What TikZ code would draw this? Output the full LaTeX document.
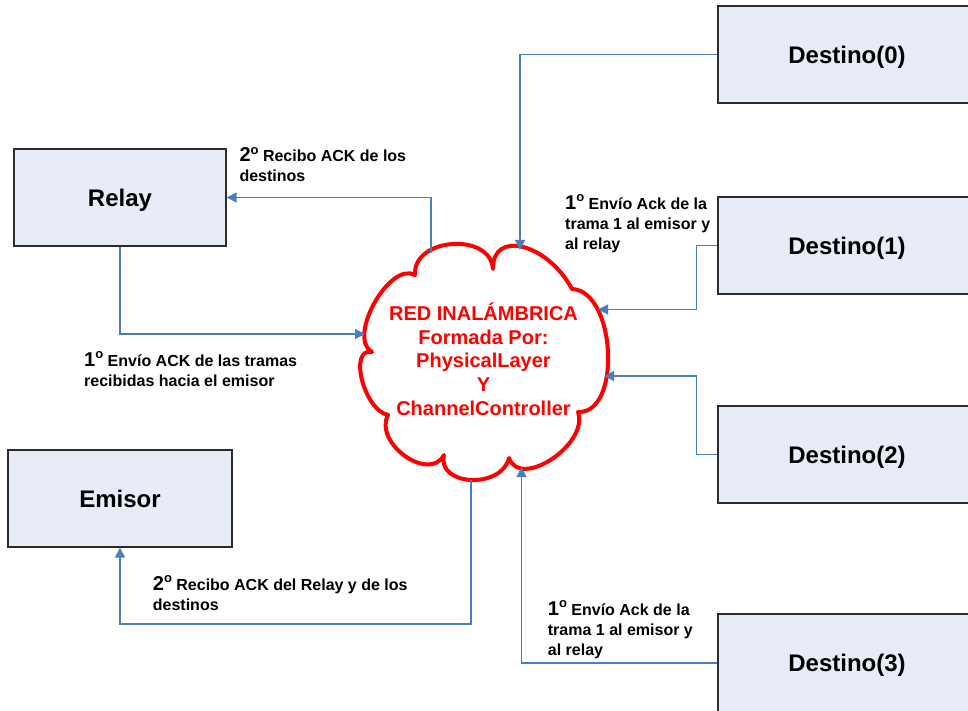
\documentclass[tikz,border=0pt]{standalone}
\usepackage{fontspec}
\setmainfont{Liberation Sans}
\usetikzlibrary{arrows.meta}
\definecolor{boxfill}{HTML}{E7ECF6}
\definecolor{boxline}{HTML}{2B2B2B}
\definecolor{linkblue}{HTML}{4A7EBB}
% ordinal number: large digit with a raised small "o"
\newcommand\ordn[1]{{\fontsize{20}{20}\selectfont #1}\raisebox{7.5pt}{\fontsize{13}{13}\selectfont o}}

\begin{document}
\begin{tikzpicture}[x=1pt,y=-1pt,
  box/.style={draw=boxline, line width=1.3pt, fill=boxfill, inner sep=0pt,
    minimum height=97pt, text height=17.2pt, text depth=0pt,
    font=\fontsize{24}{24}\selectfont\bfseries},
  link/.style={draw=linkblue, line width=1.1pt, -{Triangle[length=10pt,width=10pt]}},
  note/.style={anchor=base west, inner sep=0pt, font=\fontsize{16}{20}\selectfont\bfseries},
  ]
\useasboundingbox (0,0) rectangle (968,711);
\clip (0,0) rectangle (968,711);

% stations
\node[box, minimum width=212pt] (relay)  at (120,197.5) {Relay};
\node[box, minimum width=224pt] (emisor) at (120,498.5) {Emisor};
\node[box, minimum width=258pt] (d0) at (847,54.5)  {Destino(0)};
\node[box, minimum width=258pt] (d1) at (847,245.5) {Destino(1)};
\node[box, minimum width=258pt] (d2) at (847,454.5) {Destino(2)};
\node[box, minimum width=258pt, minimum height=98pt] (d3) at (847,663) {Destino(3)};

% wireless network cloud
\draw[red, line width=4pt, line join=round]
  (372,352) .. controls (346.6,337.8) and (389.6,260.8) .. (415,275)
  .. controls (412.3,237.7) and (490.3,231.7) .. (493,269)
  .. controls (492.2,229.3) and (547.5,243.3) .. (572,289)
  .. controls (616,291) and (622,414) .. (578,412)
  .. controls (589.3,444) and (520.3,490) .. (509,458)
  .. controls (501.7,489.3) and (436.7,486.3) .. (444,455)
  .. controls (429.3,483) and (373.3,443) .. (388,415)
  .. controls (364,410.3) and (348,347.3) .. (372,352) -- cycle;
\node[anchor=base, text=red, inner sep=0pt, font=\fontsize{20}{23.6}\selectfont\bfseries]
  (cloudtext) at (483.5,320.7)
  {\begin{tabular}[t]{@{}c@{}}RED INALÁMBRICA\\Formada Por:\\PhysicalLayer\\Y\\ChannelController\end{tabular}};

% attachment points on the cloud outline
\coordinate (cTop)  at (520,250);
\coordinate (cR1)   at (598,309.5);
\coordinate (cR2)   at (604,376);
\coordinate (cBotR) at (521.5,467);
\coordinate (cTL)   at (431,253);
\coordinate (cL)    at (365,334);
\coordinate (cBot)  at (471,480);
\coordinate (emTurn) at (471,624);

% acknowledgement paths
\draw[link] (d0.west) -| (cTop);
\draw[link] (d1.west) -- ++(-21,0) |- (cR1);
\draw[link] (d2.west) -- ++(-21,0) |- (cR2);
\draw[link] (d3.west) -| (cBotR);
\draw[link] (cTL) |- (relay.east);
\draw[link] (relay.south) |- (cL);
\draw[link] (cBot) -- (emTurn) -| (emisor.south);

% step labels
\node[note] (lRelayIn) at (239.3,161.7)
  {\begin{tabular}[t]{@{}l@{}}\ordn{2} Recibo ACK de los\\destinos\end{tabular}};
\node[note] (lRelayOut) at (84,366)
  {\begin{tabular}[t]{@{}l@{}}\ordn{1} Envío ACK de las tramas\\recibidas hacia el emisor\end{tabular}};
\node[note] (lDest1) at (565,209.3)
  {\begin{tabular}[t]{@{}l@{}}\ordn{1} Envío Ack de la\\trama 1 al emisor y\\al relay\end{tabular}};
\node[note] (lDest3) at (547.7,615)
  {\begin{tabular}[t]{@{}l@{}}\ordn{1} Envío Ack de la\\trama 1 al emisor y\\al relay\end{tabular}};
\node[note] (lEmisor) at (152.7,590)
  {\begin{tabular}[t]{@{}l@{}}\ordn{2} Recibo ACK del Relay y de los\\destinos\end{tabular}};
\end{tikzpicture}
\end{document}
